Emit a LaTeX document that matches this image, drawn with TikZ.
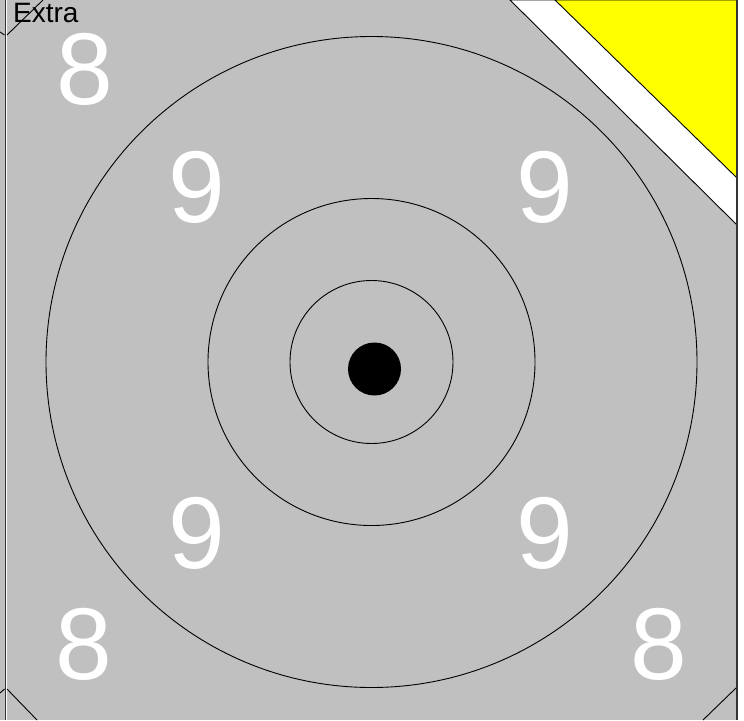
\documentclass[tikz,border=0pt]{standalone}
\usepackage{fontspec}
\setmainfont{Liberation Sans}
\definecolor{facegray}{HTML}{C0C0C0}
\definecolor{cornery}{HTML}{FFFF00}

\begin{document}
\begin{tikzpicture}[
		x=1pt, y=-1pt,
		ring/.style={draw=black, line width=0.9pt},
		edge/.style={draw=black, line width=0.9pt},
		score/.style={text=white, inner sep=0pt, font=\fontsize{102}{102}\selectfont},
		tag/.style={text=black, inner sep=0pt, anchor=base west, font=\fontsize{28}{28}\selectfont}
		]
		
		% ==========================================
		% FACE
		% ==========================================
		\useasboundingbox (0,0) rectangle (744,720);
		\fill[white] (0,0) rectangle (744,720);
		\fill[facegray] (0,0) rectangle (737,720);
		
		% corner band and triangle (top right)
		\filldraw[fill=white, edge] (510,0) -- (737,225) -- (737,0) -- cycle;
		\filldraw[fill=cornery, edge] (555,0) -- (737,178) -- (737,0) -- cycle;
		
		% borders
		\draw[line width=1.4pt, black!80] (5.2,0) -- (5.2,720);
		\draw[line width=1.1pt, white] (6.6,0) -- (6.6,720);
		\draw[line width=2pt, black!80] (737,0) -- (737,720);
		
		% corner cuts
		\draw[edge] (43,0) -- (7,35);
		\draw[edge] (0,32) -- (4.5,35);
		\draw[edge] (0,693) -- (4.5,689);
		\draw[edge] (7,689) -- (37,720);
		\draw[edge] (736,688) -- (703,720);
		
		% ==========================================
		% RINGS
		% ==========================================
		\coordinate (mid) at (371.5,362);
		\draw[ring] (mid) circle[radius=325.5];
		\draw[ring] (mid) circle[radius=163.5];
		\draw[ring] (mid) circle[radius=81.5];
		\fill[black] (374.5,369) circle[radius=26.5];
		
		% ==========================================
		% LABELS
		% ==========================================
		\node[tag] (extra) at (13,23) {Extra};
		
		\node[score] (s8a) at (85,69) {8};
		\node[score] (s9a) at (197,187) {9};
		\node[score] (s9b) at (545,187) {9};
		\node[score] (s9c) at (197,533) {9};
		\node[score] (s9d) at (545,533) {9};
		\node[score] (s8b) at (84,644) {8};
		\node[score] (s8c) at (659,644) {8};
		
	\end{tikzpicture}
\end{document}
